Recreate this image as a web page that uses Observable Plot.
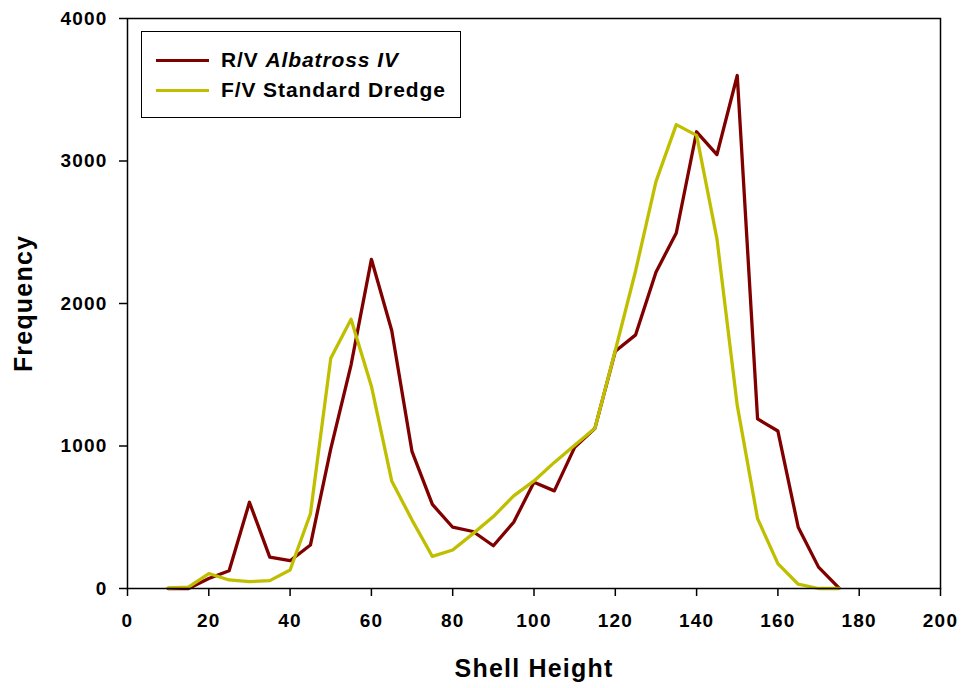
<!DOCTYPE html>
<html>
<head>
<meta charset="utf-8">
<script src="https://cdn.jsdelivr.net/npm/d3@7"></script>
<script src="https://cdn.jsdelivr.net/npm/@observablehq/plot@0.6"></script>
<style>
  html, body { margin: 0; padding: 0; background: #fff; }
  #wrap { position: relative; width: 963px; height: 688px; font-family: "Liberation Sans", Arial, sans-serif; }
  #legend { position: absolute; left: 141px; top: 31px; width: 318px; height: 85px; border: 1.5px solid #000; background: #fff; }
  .row { position: absolute; left: 14px; display: flex; align-items: center; font-weight: bold; font-size: 21px; letter-spacing: 0.9px; color: #000; white-space: nowrap; }
  .swatch { width: 53px; height: 3px; margin-right: 12px; }
</style>
</head>
<body>
<div id="wrap"></div>
<script>
const shellHeight = [10,15,20,25,30,35,40,45,50,55,60,65,70,75,80,85,90,95,100,105,110,115,120,125,130,135,140,145,150,155,160,165,170,175];
const albatross = [0,0,70,125,605,220,195,305,980,1570,2310,1810,960,590,430,400,300,465,746,685,990,1125,1665,1780,2220,2495,3205,3045,3600,1190,1105,430,150,5];
const dredge = [5,10,105,60,48,55,130,525,1615,1890,1420,755,480,225,270,385,505,650,755,885,1005,1125,1670,2230,2855,3255,3180,2455,1285,490,175,30,0,0];
const seriesNames = ["R/V Albatross IV", "F/V Standard Dredge"];
const seriesColors = ["#800000", "#BFBF00"];
const xTicks = [0,20,40,60,80,100,120,140,160,180,200];
const yTicks = [0,1000,2000,3000,4000];

const redData = shellHeight.map((h, i) => ({h, f: albatross[i]}));
const greenData = shellHeight.map((h, i) => ({h, f: dredge[i]}));

const chart = Plot.plot({
  width: 963,
  height: 688,
  marginLeft: 127,
  marginRight: 23,
  marginTop: 18,
  marginBottom: 100,
  style: {fontFamily: "'Liberation Sans', Arial, sans-serif", fontWeight: "bold", fontSize: "19px", letterSpacing: "1.2px", color: "#000", background: "#fff"},
  x: {domain: [0, 200]},
  y: {domain: [0, 4000]},
  marks: [
    Plot.axisX({ticks: xTicks, tickFormat: d => String(d), tickSize: 8, tickPadding: 17, label: null, stroke: "#000", strokeWidth: 1.5}),
    Plot.axisY({ticks: yTicks, tickFormat: d => String(d), tickSize: 8, tickPadding: 12, label: null, stroke: "#000", strokeWidth: 1.5}),
    Plot.line(redData, {x: "h", y: "f", stroke: seriesColors[0], strokeWidth: 3.3}),
    Plot.line(greenData, {x: "h", y: "f", stroke: seriesColors[1], strokeWidth: 3.3}),
    Plot.frame({stroke: "#000", strokeWidth: 1.5}),
    Plot.text(["Frequency"], {text: d => d, frameAnchor: "left", rotate: -90, dx: -96, lineAnchor: "bottom", textAnchor: "middle", fontSize: 25, fontWeight: "bold"}),
    Plot.text(["Shell Height"], {text: d => d, frameAnchor: "bottom", dy: 88, lineAnchor: "bottom", textAnchor: "middle", fontSize: 25, fontWeight: "bold"})
  ]
});

const wrap = document.getElementById("wrap");
wrap.appendChild(chart);

const legend = document.createElement("div");
legend.id = "legend";
seriesNames.forEach((name, i) => {
  const row = document.createElement("div");
  row.className = "row";
  row.style.top = (i === 0 ? 16 : 46) + "px";
  const sw = document.createElement("span");
  sw.className = "swatch";
  sw.style.background = seriesColors[i];
  row.appendChild(sw);
  const label = document.createElement("span");
  if (i === 0) {
    label.innerHTML = "R/V <i>Albatross IV</i>";
  } else {
    label.textContent = name;
  }
  row.appendChild(label);
  legend.appendChild(row);
});
wrap.appendChild(legend);
</script>
</body>
</html>
